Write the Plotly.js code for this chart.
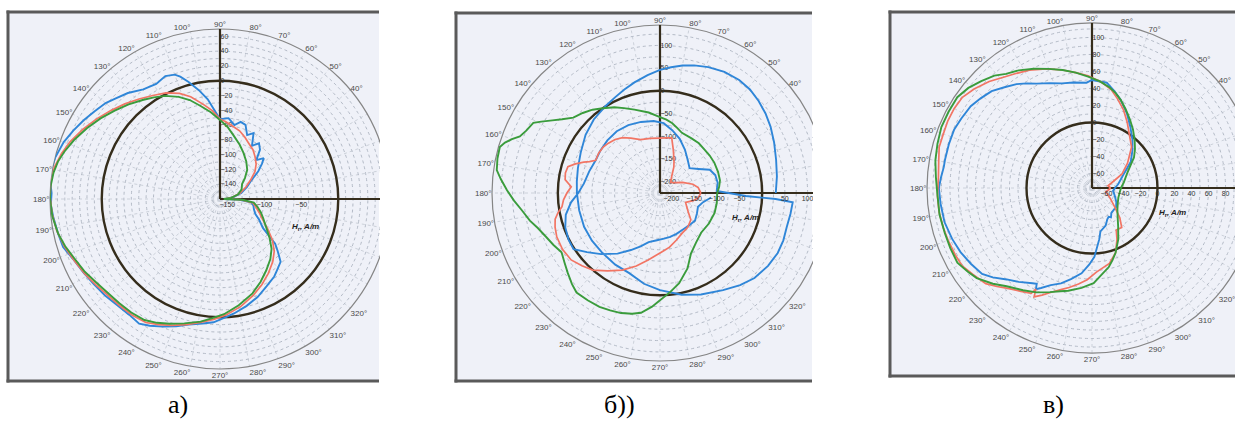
<!DOCTYPE html>
<html><head><meta charset="utf-8">
<script src="https://cdn.plot.ly/plotly-3.0.1.min.js"></script>
<style>html,body{margin:0;padding:0;overflow:hidden;background:#fff;width:1235px;height:423px}#chart{width:1300px;height:423px}</style>
</head><body><div id="chart"></div>
<script>
// ---------- tick data ----------
const ANGLE_TICKS = [0,10,20,30,40,50,60,70,80,90,100,110,120,130,140,150,160,170,180,190,200,210,220,230,240,250,260,270,280,290,300,310,320,330,340,350];
const ANGLE_LABELS = [40,50,60,70,80,90,100,110,120,130,140,150,160,170,180,190,200,210,220,230,240,250,260,270,280,290,300,310,320];

const RANGE_A = [-160, 70];
const RGRID_A = [-150,-140,-130,-120,-110,-100,-90,-80,-70,-60,-50,-40,-30,-20,-10,0,10,20,30,40,50,60];
const VLABELS_A = [-140,-120,-100,-80,-60,-40,-20,0,20,40,60];
const HLABELS_A = [-150,-100,-50];

const RANGE_B = [-225, 145];
const RGRID_B = [-200,-175,-150,-125,-100,-75,-50,-25,0,25,50,75,100,125];
const VLABELS_B = [-200,-150,-100,-50,0,50,100];
const HLABELS_B = [-200,-150,-100,-50,50,100];

const RANGE_C = [-77, 117];
const RGRID_C = [-70,-60,-50,-40,-30,-20,-10,0,10,20,30,40,50,60,70,80,90,100,110];
const VLABELS_C = [-60,-40,-20,0,20,40,60,80,100];
const HLABELS_C = [-60,-40,-20,0,20,40,60,80];

const CAPTIONS = ['а)', 'б))', 'в)'];
const AXIS_TITLE = '<b><i>H</i><sub>r</sub><i>, A/m</i></b>';

// ---------- series: [angle deg, H_r A/m] ----------
const BLUE_A = [[0,-152],[8,-142],[16,-130],[24,-120],[30,-112],[36,-96],[40,-86],[43,-79],[47,-88],[51,-74],[55,-68],[59,-76],[63,-60],[67,-66],[71,-54],[75,-52],[79,-58],[84,-50],[90,-52],[94,-38],[97,-24],[101,-10],[105,4],[108,14],[110,19],[114,22],[119,18],[125,21],[131,30],[136,36],[140,42],[145,47],[150,53],[155,59],[160,65],[166,70],[170,72],[174,71],[178,68],[182,69],[186,67],[192,64],[197,62],[202,55],[208,50],[214,46],[220,43],[226,40],[232,39],[237,41],[241,36],[246,29],[251,22],[256,15],[262,10],[267,7],[272,1],[277,-4],[284,-11],[291,-18],[298,-26],[305,-32],[310,-38],[314,-42],[318,-55],[321,-64],[326,-90],[332,-100],[337,-108],[343,-112],[349,-114],[354,-118],[358,-135],[360,-152]];
const RED_A = [[0,-154],[8,-143],[16,-132],[25,-121],[32,-111],[38,-100],[44,-92],[50,-86],[56,-80],[63,-75],[68,-70],[74,-64],[80,-60],[86,-55],[90,-52],[95,-40],[100,-30],[106,-16],[111,-7],[117,1],[123,7],[129,14],[135,22],[141,30],[147,39],[153,48],[159,57],[164,63],[169,68],[174,70],[179,70],[185,68],[191,65],[197,60],[203,54],[209,49],[215,44],[221,40],[227,38],[233,37],[239,35],[244,29],[249,23],[255,16],[261,9],[267,3],[273,-3],[281,-12],[289,-22],[296,-31],[303,-40],[310,-49],[316,-58],[322,-70],[328,-84],[335,-97],[341,-104],[347,-110],[353,-115],[358,-132],[360,-154]];
const GREEN_A = [[0,-155],[6,-145],[14,-135],[24,-128],[34,-124],[40,-116],[47,-106],[55,-98],[63,-90],[70,-82],[78,-72],[84,-62],[90,-53],[96,-42],[102,-31],[107,-20],[112,-11],[118,-2],[123,4],[128,10],[134,18],[140,26],[146,35],[152,44],[158,53],[163,60],[167,65],[171,68],[176,70],[180,70],[186,68],[192,64],[197,59],[202,53],[208,48],[214,42],[220,38],[226,36],[232,35],[238,33],[243,28],[248,22],[254,15],[261,8],[266,2],[272,-4],[280,-14],[289,-25],[296,-35],[303,-45],[310,-54],[316,-63],[322,-75],[328,-86],[336,-96],[342,-102],[348,-108],[354,-114],[358,-130],[360,-155]];

const BLUE_B = [[0,30],[8,35],[16,41],[24,50],[31,59],[37,66],[43,72],[49,77],[55,79],[62,77],[69,72],[75,66],[80,60],[85,53],[90,46],[96,36],[103,25],[109,16],[115,8],[122,1],[132,-7],[142,-17],[153,-29],[163,-36],[172,-40],[180,-42],[192,-43],[204,-42],[215,-42],[226,-42],[238,-39],[249,-36],[260,-22],[270,-11],[282,4],[292,16],[303,30],[311,44],[318,55],[326,62],[333,66],[339,66],[345,64],[351,66],[356,68],[357,30],[358,-36],
  [2,-100],[10,-96],[18,-97],[25,-104],[32,-125],[40,-140],[50,-130],[60,-115],[70,-98],[79,-84],[87,-71],[95,-66],[105,-63],[115,-60],[125,-59],[135,-61],[145,-64],[153,-66],[163,-62],[173,-56],[180,-45],[186,-28],[193,-12],[200,-3],[207,1],[213,2],[219,-18],[226,-38],[235,-62],[243,-84],[250,-100],[257,-114],[265,-120],[275,-124],[283,-126],[292,-128],[301,-130],[312,-129],[322,-127],[331,-132],[340,-136],[348,-128],[355,-112]];
const RED_B = [[0,-135],[8,-140],[15,-150],[25,-170],[35,-185],[45,-192],[55,-180],[62,-160],[67,-146],[73,-125],[78,-101],[84,-103],[90,-104],[100,-103],[110,-100],[118,-88],[124,-78],[130,-71],[136,-67],[141,-64],[147,-64],[153,-66],[156,-55],[158,-44],[161,-28],[164,-14],[168,-12],[172,-14],[176,-29],[180,-20],[184,-12],[188,-7],[191,4],[194,13],[198,18],[203,22],[210,23],[217,20],[223,10],[229,0],[236,-18],[244,-36],[252,-56],[260,-75],[265,-85],[270,-93],[275,-99],[280,-104],[289,-115],[299,-124],[309,-128],[319,-135],[326,-150],[333,-159],[340,-165],[347,-150],[353,-140],[360,-135]];
const GREEN_B = [[0,-99],[6,-94],[12,-90],[20,-89],[29,-88],[37,-88],[44,-88],[52,-86],[60,-86],[70,-84],[75,-77],[80,-69],[85,-63],[90,-58],[98,-46],[107,-33],[113,-22],[118,-11],[124,0],[129,11],[134,20],[139,28],[143,45],[146,61],[149,80],[151,94],[155,100],[158,108],[160,122],[162,134],[164,142],[168,141],[172,138],[175,127],[179,112],[183,97],[187,82],[192,68],[196,55],[201,44],[206,36],[211,28],[216,35],[221,44],[226,54],[230,61],[236,60],[242,59],[247,56],[252,53],[257,48],[261,42],[266,26],[270,11],[276,-6],[282,-22],[290,-48],[297,-75],[306,-90],[316,-99],[328,-98],[340,-97],[350,-98],[360,-99]];

const BLUE_C = [[0,-50],[8,-46],[16,-42],[25,-35],[34,-22],[43,-12],[50,-3],[58,8],[65,20],[72,32],[77,40],[82,48],[90,50],[93,47],[100,49],[106,51],[112,56],[118,62],[122,68],[126,74],[131,80],[136,87],[141,91],[146,95],[152,97],[157,99],[163,99],[169,99],[172,99],[176,101],[180,103],[186,102],[193,101],[200,98],[206,95],[212,91],[218,87],[222,80],[227,70],[232,63],[238,55],[240,53],[241,59],[243,55],[247,47],[252,41],[257,33],[263,24],[268,13],[272,4],[278,-16],[281,-25],[290,-30],[296,-36],[300,-38],[303,-36],[308,-40],[322,-41],[330,-44],[339,-48],[345,-50],[352,-52],[360,-50]];
const RED_C = [[0,-55],[8,-58],[15,-53],[25,-38],[35,-26],[46,-10],[56,1],[62,11],[68,22],[74,32],[79,41],[85,48],[92,55],[98,60],[104,66],[111,73],[118,80],[124,85],[128,89],[134,97],[140,104],[145,109],[150,110],[155,110],[160,109],[165,109],[170,106],[176,104],[183,105],[189,105],[195,104],[200,103],[206,102],[211,101],[216,96],[222,91],[226,84],[230,77],[235,71],[240,66],[241,59],[242,68],[245,62],[249,54],[253,48],[257,43],[262,37],[267,31],[273,22],[283,14],[290,4],[296,-10],[300,-20],[307,-19],[313,-29],[320,-42],[330,-52],[344,-60],[352,-58],[360,-55]];
const GREEN_C = [[0,-43],[10,-39],[23,-32],[30,-25],[36,-16],[42,-9],[48,-2],[55,7],[61,15],[67,24],[72,32],[76,38],[80,43],[86,49],[92,54],[98,60],[104,66],[110,72],[116,79],[122,86],[127,91],[131,98],[136,104],[141,110],[146,114],[152,114],[158,114],[164,112],[170,110],[176,107],[182,105],[190,105],[197,104],[203,104],[209,104],[214,99],[218,95],[224,85],[229,76],[236,68],[242,62],[248,55],[253,50],[257,47],[264,41],[271,35],[276,26],[282,18],[286,11],[290,4],[297,-9],[304,-22],[312,-32],[320,-38],[330,-42],[340,-44],[350,-44],[360,-43]];

// ---------- geometry / style ----------
const W = 1300, H = 423;
const X = p => p / W, Y = p => 1 - p / H;
const COL = {blue:'#2f86d8', red:'#f27564', green:'#3a9c3c', black:'#352d1c'};
const PANELS = [
  {cx:220, cy:199, R:170, range:RANGE_A, grid:RGRID_A, vl:VLABELS_A, hl:HLABELS_A, series:[BLUE_A,RED_A,GREEN_A], cap:[178,404], ttl:[290,227]},
  {cx:660, cy:193, R:168, range:RANGE_B, grid:RGRID_B, vl:VLABELS_B, hl:HLABELS_B, series:[BLUE_B,RED_B,GREEN_B], cap:[619,404], ttl:[730,218]},
  {cx:1092, cy:188, R:165, range:RANGE_C, grid:RGRID_C, vl:VLABELS_C, hl:HLABELS_C, series:[BLUE_C,RED_C,GREEN_C], cap:[1053,404], ttl:[1157,213]}
];

const data = [];
const layout = {width:W, height:H, margin:{l:0,r:0,t:0,b:0}, paper_bgcolor:'#ffffff',
  font:{family:'Liberation Sans, Arial, sans-serif'}, showlegend:false, shapes:[], annotations:[]};

const offAng = {rotation:0, direction:'counterclockwise', visible:false};
const tf = {size:7, color:'#333'};

PANELS.forEach((p, i) => {
  const base = i*4 + 1;
  const id = k => (base + k === 1 ? 'polar' : 'polar' + (base + k));
  const dom = {x:[X(p.cx - p.R), X(p.cx + p.R)], y:[Y(p.cy + p.R), Y(p.cy - p.R)]};
  // 1) grid (dotted circles + radial lines, outer rim)
  layout[id(0)] = {domain:dom, bgcolor:'rgba(0,0,0,0)',
    angularaxis:{rotation:0, direction:'counterclockwise', tickmode:'array', tickvals:ANGLE_TICKS, showticklabels:false,
      showline:true, linecolor:'#858585', linewidth:1.2, gridcolor:'#ccd1da', griddash:'dot', gridwidth:1, ticks:''},
    radialaxis:{range:p.range, angle:90, tickmode:'array', tickvals:p.grid, showticklabels:false, showline:false, ticks:'',
      gridcolor:'#b3bac6', griddash:'dot', gridwidth:1}};
  // 2) zero-level circle (H_r = 0) as a single radial gridline, plus black axis lines
  layout[id(1)] = {domain:dom, bgcolor:'rgba(0,0,0,0)', angularaxis:offAng,
    radialaxis:{range:p.range, tickmode:'array', tickvals:[0], showticklabels:false, showline:false, ticks:'',
      gridcolor:COL.black, gridwidth:2.4, angle:90}};
  // 3) vertical radial labels, angle labels and measured curves
  layout[id(2)] = {domain:dom, bgcolor:'rgba(0,0,0,0)',
    angularaxis:{rotation:0, direction:'counterclockwise', tickmode:'array', tickvals:ANGLE_LABELS,
      ticktext:ANGLE_LABELS.map(a => a + '°'), showline:false, showgrid:false, ticks:'', tickfont:{size:8, color:'#4a4a4a'}},
    radialaxis:{range:p.range, angle:90, tickangle:90, tickmode:'array', tickvals:p.vl, showline:false, showgrid:false,
      ticks:'', layer:'below traces', tickfont:tf}};
  // 4) horizontal radial labels
  layout[id(3)] = {domain:dom, bgcolor:'rgba(0,0,0,0)', angularaxis:offAng,
    radialaxis:{range:p.range, angle:0, tickmode:'array', tickvals:p.hl, showline:false, showgrid:false, ticks:'', tickfont:tf}};

  data.push({type:'scatterpolar', subplot:id(0), mode:'lines', theta:[90,90], r:p.range, line:{color:'rgba(0,0,0,0)', width:0}, hoverinfo:'skip'});
  data.push({type:'scatterpolar', subplot:id(1), mode:'lines', theta:[90,90], r:p.range, line:{color:COL.black, width:2.2}, hoverinfo:'skip'});
  data.push({type:'scatterpolar', subplot:id(1), mode:'lines', theta:[0,0], r:p.range, line:{color:COL.black, width:2.2}, hoverinfo:'skip'});
  data.push({type:'scatterpolar', subplot:id(3), mode:'lines', theta:[0,0], r:p.range, line:{color:'rgba(0,0,0,0)', width:0}, hoverinfo:'skip'});
  const cols = [COL.blue, COL.red, COL.green];
  p.series.forEach((s, k) => data.push({type:'scatterpolar', subplot:id(2), mode:'lines',
    theta:s.map(d => d[0]), r:s.map(d => d[1]), line:{color:cols[k], width:k===1?1.7:1.9}, hoverinfo:'skip'}));

  layout.annotations.push({xref:'paper', yref:'paper', x:X(p.cap[0]), y:Y(p.cap[1]), text:CAPTIONS[i], showarrow:false,
    xanchor:'center', yanchor:'middle', font:{family:'Liberation Serif, Times New Roman, serif', size:26, color:'#000'}});
  layout.annotations.push({xref:'paper', yref:'paper', x:X(p.ttl[0]), y:Y(p.ttl[1]), text:AXIS_TITLE, showarrow:false,
    xanchor:'left', yanchor:'middle', font:{size:8, color:'#222'}});
});

// frames
const FRAMES = [[8,379,12,381],[456,812,13,381],[890,1300,12,376]];
FRAMES.forEach(f => {
  layout.shapes.push({type:'rect', xref:'paper', yref:'paper', x0:X(f[0]), x1:X(f[1]), y0:Y(f[3]), y1:Y(f[2]), fillcolor:'#eff1f8', line:{width:0}, layer:'below'});
});
// white margins outside the cropped frames
[[0,X(6.5),0,1],[X(380),X(454.5),0,1],[X(813),X(888.5),0,1],[0,1,Y(0),Y(10.5)],[0,X(456),0,Y(383)],[X(456),X(889),0,Y(383)],[X(889),1,0,Y(378)]]
  .forEach(r => layout.shapes.push({type:'rect', xref:'paper', yref:'paper', x0:r[0], x1:r[1], y0:r[2], y1:r[3], fillcolor:'#ffffff', line:{width:0}, layer:'above'}));
FRAMES.forEach(f => {
  const ln = (x0,y0,x1,y1) => layout.shapes.push({type:'line', xref:'paper', yref:'paper', x0:X(x0), x1:X(x1), y0:Y(y0), y1:Y(y1), line:{color:'#5a5a5a', width:3}, layer:'above'});
  ln(f[0]-1.5, f[2], f[1], f[2]);
  ln(f[0], f[2]-1.5, f[0], f[3]+1.5);
  ln(f[0]-1.5, f[3], f[1], f[3]);
});

Plotly.newPlot('chart', data, layout, {staticPlot:true, displayModeBar:false});
</script></body></html>
